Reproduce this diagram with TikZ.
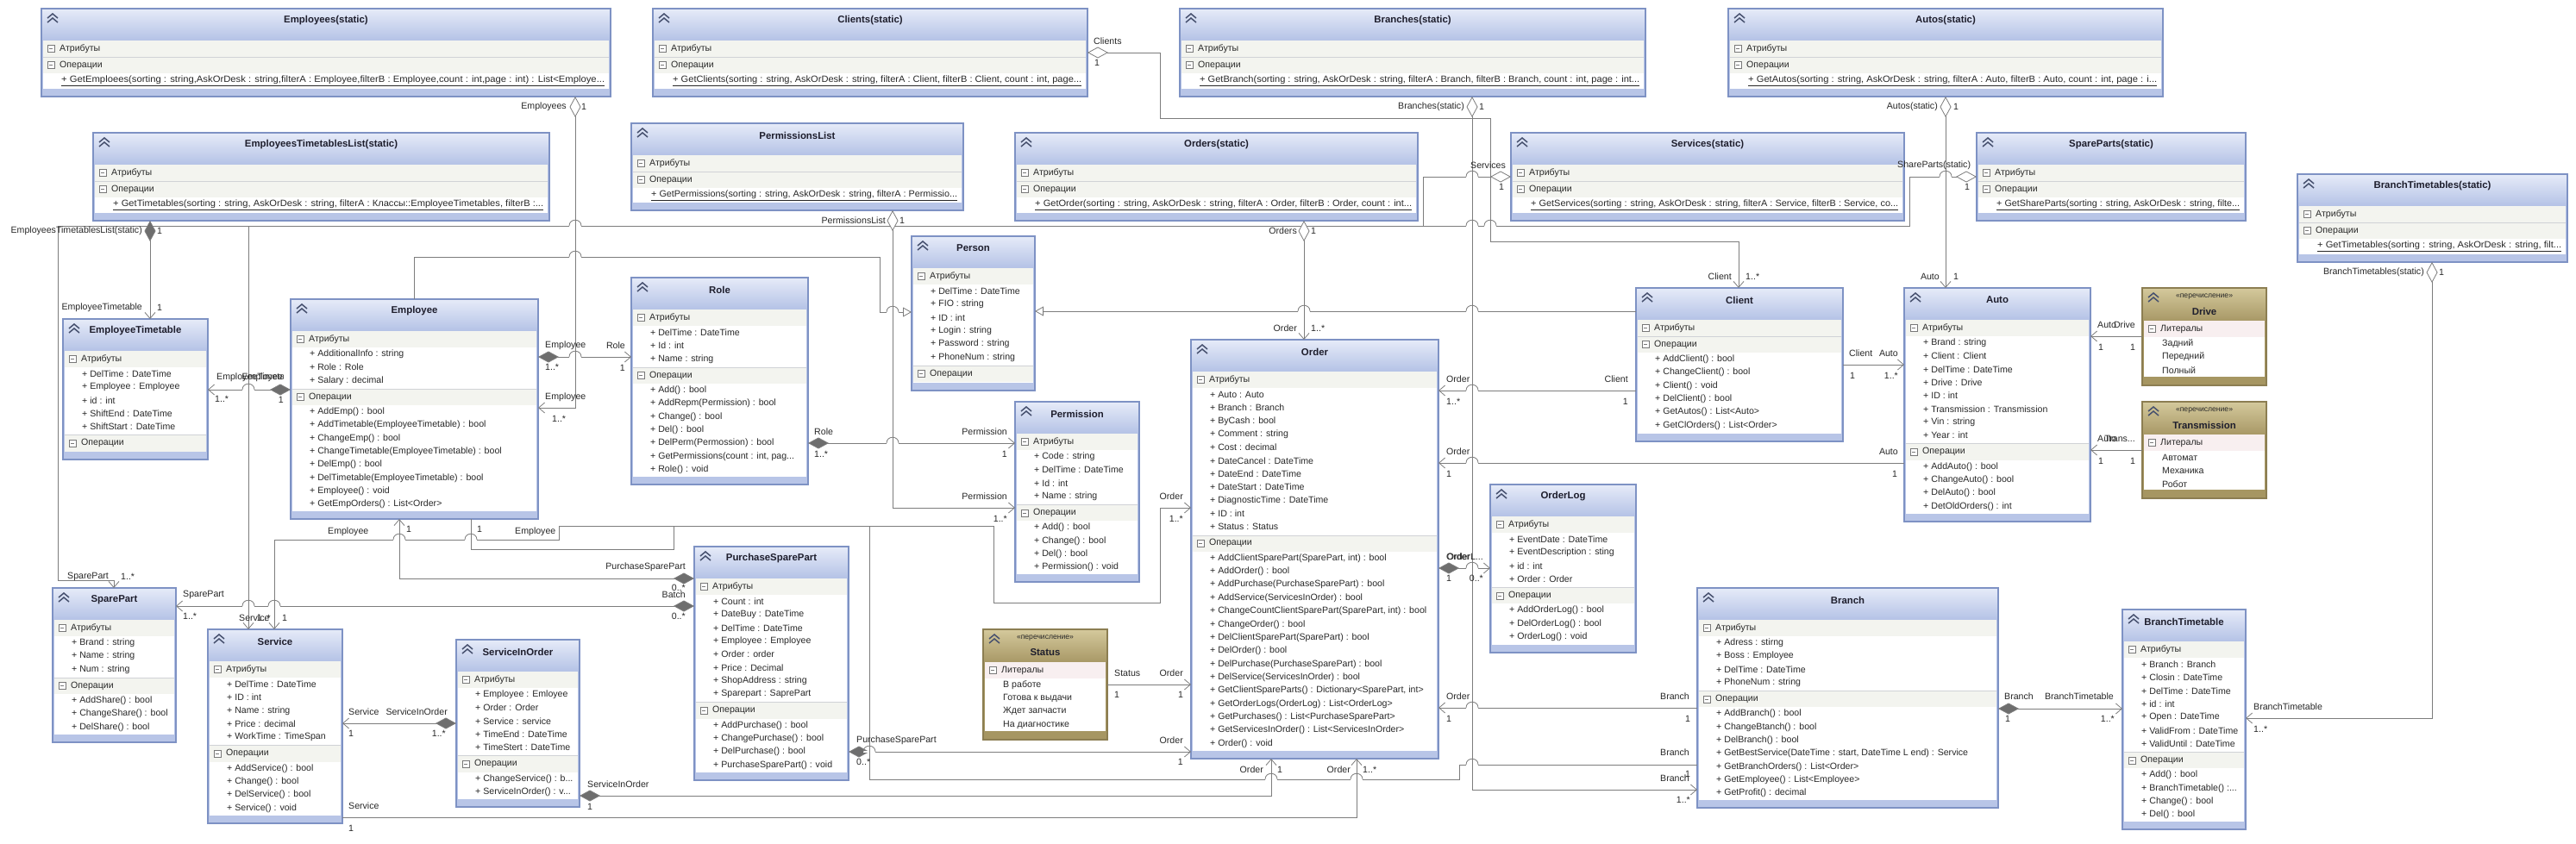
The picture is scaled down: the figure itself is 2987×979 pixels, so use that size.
\documentclass[tikz,border=0pt]{standalone}
\usepackage{fontspec}
\setmainfont{Liberation Sans}
\usepackage{graphicx}
\usetikzlibrary{arrows.meta,fit}

\definecolor{ttop}{RGB}{230,235,248}
\definecolor{tbot}{RGB}{180,194,230}
\definecolor{bandblue}{RGB}{184,197,231}
\definecolor{boxline}{RGB}{126,146,196}
\definecolor{hdrbg}{RGB}{243,244,239}
\definecolor{sepgray}{RGB}{208,210,214}
\definecolor{etop}{RGB}{212,201,156}
\definecolor{ebot}{RGB}{168,152,102}
\definecolor{eband}{RGB}{166,150,98}
\definecolor{eline}{RGB}{140,126,82}
\definecolor{ehdr}{RGB}{248,239,240}
\definecolor{conngray}{RGB}{125,125,125}
\definecolor{dfill}{RGB}{110,110,110}
\definecolor{txtc}{RGB}{40,40,40}
\definecolor{titc}{RGB}{30,30,45}
\definecolor{chevc}{RGB}{70,80,110}
\definecolor{mboxc}{RGB}{120,120,120}

\newcounter{lblc}
\newlength\natw
\newcommand{\tdots}{...}

\tikzset{
  conn/.style={draw=conngray, line width=0.8pt},
  txtfont/.style={font=\fontsize{10.6}{12}\selectfont},
  itemtext/.style={inner sep=0pt, anchor=west, text=txtc, txtfont},
  lbltext/.style={inner sep=0pt, text=txtc, txtfont},
  classtitle/.style={inner sep=0pt, text=titc, font=\bfseries\fontsize{11.4}{13}\selectfont},
  stereo/.style={inner sep=0pt, text=txtc, font=\fontsize{8.6}{10}\selectfont},
  boxframe/.style={draw=boxline, line width=1.1pt, inner sep=0pt, outer sep=0pt},
  eframe/.style={draw=eline, line width=1.1pt, inner sep=0pt, outer sep=0pt},
  chevron/.style={draw=chevc, line width=1.5pt},
  mbox/.style={draw=mboxc, line width=0.7pt},
  sepline/.style={draw=sepgray, line width=0.7pt},
  aggr/.tip={Diamond[fill=white,length=24pt,width=13pt]},
  comp/.tip={Diamond[fill=dfill,length=24pt,width=13pt]},
  nav/.tip={Straight Barb[length=7pt,width=12pt]},
  gen/.tip={Triangle[fill=white,length=10pt,width=11pt]}
}

% text squeezed to a given width
\newcommand{\fitw}[2]{\settowidth\natw{#2}\pgfmathsetmacro\sfac{#1/\natw}\scalebox{\sfac}[1]{#2}}

% collapse icons
\newcommand{\chev}[2]{%
  \draw[chevron] ({#1+7},{#2+11}) -- ({#1+13},{#2+6}) -- ({#1+19},{#2+11});
  \draw[chevron] ({#1+7},{#2+16}) -- ({#1+13},{#2+11}) -- ({#1+19},{#2+16});}
\newcommand{\minusbox}[2]{%
  \draw[mbox, fill=white] ({#1-4},{#2-4}) rectangle ({#1+4},{#2+4});
  \draw[mbox] ({#1-2},{#2}) -- ({#1+2},{#2});}

% class: name, x1, y1, x2, y2, title, number of attributes, attributes, operations
\newcommand{\classbox}[9]{%
  \pgfmathsetmacro\hA{#3+37}%
  \pgfmathsetmacro\iA{\hA+19}%
  \pgfmathsetmacro\hO{\iA+#7*15.35+(#7>0)*2}%
  \pgfmathsetmacro\iO{\hO+19}%
  \fill[bandblue] (#2,#3) rectangle (#4,#5);
  \shade[top color=ttop,bottom color=tbot] (#2,#3) rectangle (#4,\hA);
  \fill[white] ({#2+2},\hA) rectangle ({#4-2},{#5-9});
  \fill[hdrbg] ({#2+2},\hA) rectangle ({#4-2},\iA);
  \fill[hdrbg] ({#2+2},\hO) rectangle ({#4-2},\iO);
  \draw[sepline] ({#2+2},\hO) -- ({#4-2},\hO);
  \chev{#2}{#3}
  \node[classtitle] (#1-t) at ({(#2+#4)/2},{#3+14}) {#6};
  \minusbox{#2+11}{\hA+9.5}
  \node[itemtext] (#1-ha) at ({#2+21},{\hA+9.5}) {Атрибуты};
  \minusbox{#2+11}{\hO+9.5}
  \node[itemtext] (#1-ho) at ({#2+21},{\hO+9.5}) {Операции};
  \ifnum#7>0\relax
    \foreach \t [count=\i] in {#8} {\node[itemtext] (#1-a\i) at ({#2+22},{\iA+(\i-0.5)*15.35}) {\t};}
  \fi
  \foreach \t [count=\i] in {#9} {\node[itemtext] (#1-o\i) at ({#2+22},{\iO+(\i-0.5)*15.35}) {\t};}
  \coordinate (#1-nw) at (#2,#3);
  \coordinate (#1-se) at (#4,#5);
  \node[boxframe, fit=(#1-nw)(#1-se)] (#1) {};}

% static list: name, x1, y1, x2, y2, title, operation
\newcommand{\staticbox}[7]{%
  \pgfmathsetmacro\hA{#3+37}%
  \pgfmathsetmacro\hO{#3+56}%
  \pgfmathsetmacro\iO{#3+75}%
  \pgfmathsetmacro\tw{#4-#2-30}%
  \fill[bandblue] (#2,#3) rectangle (#4,#5);
  \shade[top color=ttop,bottom color=tbot] (#2,#3) rectangle (#4,\hA);
  \fill[white] ({#2+2},\hA) rectangle ({#4-2},{#5-9});
  \fill[hdrbg] ({#2+2},\hA) rectangle ({#4-2},\iO);
  \draw[sepline] ({#2+2},\hO) -- ({#4-2},\hO);
  \chev{#2}{#3}
  \node[classtitle] (#1-t) at ({(#2+#4)/2},{#3+14}) {#6};
  \minusbox{#2+11}{\hA+9.5}
  \node[itemtext] (#1-ha) at ({#2+21},{\hA+9.5}) {Атрибуты};
  \minusbox{#2+11}{\hO+9.5}
  \node[itemtext] (#1-ho) at ({#2+21},{\hO+9.5}) {Операции};
  \node[itemtext] (#1-o1) at ({#2+23},{\iO+9}) {\underline{\fitw{\tw}{#7}}};
  \coordinate (#1-nw) at (#2,#3);
  \coordinate (#1-se) at (#4,#5);
  \node[boxframe, fit=(#1-nw)(#1-se)] (#1) {};}

% enumeration: name, x1, y1, x2, y2, title, literals
\newcommand{\enumbox}[7]{%
  \pgfmathsetmacro\hA{#3+38}%
  \pgfmathsetmacro\iA{#3+57}%
  \fill[eband] (#2,#3) rectangle (#4,#5);
  \shade[top color=etop,bottom color=ebot] (#2,#3) rectangle (#4,\hA);
  \fill[white] ({#2+2},\hA) rectangle ({#4-2},{#5-10});
  \fill[ehdr] ({#2+2},\hA) rectangle ({#4-2},\iA);
  \chev{#2}{#3}
  \node[stereo] (#1-s) at ({(#2+#4)/2},{#3+10}) {«перечисление»};
  \node[classtitle] (#1-t) at ({(#2+#4)/2},{#3+27}) {#6};
  \minusbox{#2+11}{\hA+9.5}
  \node[itemtext] (#1-ha) at ({#2+21},{\hA+9.5}) {Литералы};
  \foreach \t [count=\i] in {#7} {\node[itemtext] (#1-l\i) at ({#2+23},{\iA+(\i-0.5)*15.35}) {\t};}
  \coordinate (#1-nw) at (#2,#3);
  \coordinate (#1-se) at (#4,#5);
  \node[eframe, fit=(#1-nw)(#1-se)] (#1) {};}

% line jump over a vertical connector
\newcommand{\hopover}[2]{%
  \fill[white] ({#1-7},{#2-1.3}) rectangle ({#1+7},{#2+1.3});
  \draw[conn] (#1,{#2-2}) -- (#1,{#2+2});
  \draw[conn] ({#1-7},#2) .. controls ({#1-7},{#2-9}) and ({#1+7},{#2-9}) .. ({#1+7},#2);}

% connector labels
\newcommand{\lbl}[4][center]{\stepcounter{lblc}\node[lbltext, anchor=#1] (l\arabic{lblc}) at (#2,#3) {#4};}

\begin{document}
\begin{tikzpicture}[x=1pt,y=-1pt]
\useasboundingbox[fill=white] (0,0) rectangle (2987,979);

% static lists
\staticbox{EmployeesS}{48}{10}{708}{112}{Employees(static)}{+ GetEmploees(sorting : string,AskOrDesk : string,filterA : Employee,filterB : Employee,count : int,page : int) : List<Employe...}
\staticbox{ClientsS}{757}{10}{1261}{112}{Clients(static)}{+ GetClients(sorting : string, AskOrDesk : string, filterA : Client, filterB : Client, count : int, page...}
\staticbox{BranchesS}{1368}{10}{1908}{112}{Branches(static)}{+ GetBranch(sorting : string, AskOrDesk : string, filterA : Branch, filterB : Branch, count : int, page : int...}
\staticbox{AutosS}{2004}{10}{2508}{112}{Autos(static)}{+ GetAutos(sorting : string, AskOrDesk : string, filterA : Auto, filterB : Auto, count : int, page : i...}
\staticbox{EmpTTList}{108}{154}{637}{256}{EmployeesTimetablesList(static)}{+ GetTimetables(sorting : string, AskOrDesk : string, filterA : Классы::EmployeeTimetables, filterB :...}
\staticbox{PermList}{732}{143}{1117}{244}{PermissionsList}{+ GetPermissions(sorting : string, AskOrDesk : string, filterA : Permissio...}
\staticbox{OrdersS}{1177}{154}{1644}{256}{Orders(static)}{+ GetOrder(sorting : string, AskOrDesk : string, filterA : Order, filterB : Order, count : int...}
\staticbox{ServicesS}{1752}{154}{2208}{256}{Services(static)}{+ GetServices(sorting : string, AskOrDesk : string, filterA : Service, filterB : Service, co...}
\staticbox{SparePartsS}{2292}{154}{2604}{256}{SpareParts(static)}{+ GetShareParts(sorting : string, AskOrDesk : string, filte...}
\staticbox{BranchTTS}{2664}{202}{2977}{304}{BranchTimetables(static)}{+ GetTimetables(sorting : string, AskOrDesk : string, filt...}

% classes
\classbox{EmpTT}{73}{370}{241}{533}{EmployeeTimetable}{5}{{+ DelTime : DateTime},{+ Employee : Employee},{+ id : int},{+ ShiftEnd : DateTime},{+ ShiftStart : DateTime}}{}
\classbox{Employee}{337}{347}{624}{602}{Employee}{3}{{+ AdditionalInfo : string},{+ Role : Role},{+ Salary : decimal}}{{+ AddEmp() : bool},{+ AddTimetable(EmployeeTimetable) : bool},{+ ChangeEmp() : bool},{+ ChangeTimetable(EmployeeTimetable) : bool},{+ DelEmp() : bool},{+ DelTimetable(EmployeeTimetable) : bool},{+ Employee() : void},{+ GetEmpOrders() : List<Order>}}
\classbox{Role}{732}{322}{937}{562}{Role}{3}{{+ DelTime : DateTime},{+ Id : int},{+ Name : string}}{{+ Add() : bool},{+ AddRepm(Permission) : bool},{+ Change() : bool},{+ Del() : bool},{+ DelPerm(Permossion) : bool},{+ GetPermissions(count : int, pag\tdots},{+ Role() : void}}
\classbox{Person}{1057}{274}{1200}{453}{Person}{6}{{+ DelTime : DateTime},{+ FIO : string},{+ ID : int},{+ Login : string},{+ Password : string},{+ PhoneNum : string}}{}
\classbox{Permission}{1177}{466}{1321}{675}{Permission}{4}{{+ Code : string},{+ DelTime : DateTime},{+ Id : int},{+ Name : string}}{{+ Add() : bool},{+ Change() : bool},{+ Del() : bool},{+ Permission() : void}}
\classbox{Order}{1381}{394}{1668}{880}{Order}{11}{{+ Auto : Auto},{+ Branch : Branch},{+ ByCash : bool},{+ Comment : string},{+ Cost : decimal},{+ DateCancel : DateTime},{+ DateEnd : DateTime},{+ DateStart : DateTime},{+ DiagnosticTime : DateTime},{+ ID : int},{+ Status : Status}}{{+ AddClientSparePart(SparePart, int) : bool},{+ AddOrder() : bool},{+ AddPurchase(PurchaseSparePart) : bool},{+ AddService(ServicesInOrder) : bool},{+ ChangeCountClientSparePart(SparePart, int) : bool},{+ ChangeOrder() : bool},{+ DelClientSparePart(SparePart) : bool},{+ DelOrder() : bool},{+ DelPurchase(PurchaseSparePart) : bool},{+ DelService(ServicesInOrder) : bool},{+ GetClientSpareParts() : Dictionary<SparePart, int>},{+ GetOrderLogs(OrderLog) : List<OrderLog>},{+ GetPurchases() : List<PurchaseSparePart>},{+ GetServicesInOrder() : List<ServicesInOrder>},{+ Order() : void}}
\classbox{Client}{1897}{334}{2137}{512}{Client}{0}{}{{+ AddClient() : bool},{+ ChangeClient() : bool},{+ Client() : void},{+ DelClient() : bool},{+ GetAutos() : List<Auto>},{+ GetClOrders() : List<Order>}}
\classbox{Auto}{2208}{334}{2424}{605}{Auto}{8}{{+ Brand : string},{+ Client : Client},{+ DelTime : DateTime},{+ Drive : Drive},{+ ID : int},{+ Transmission : Transmission},{+ Vin : string},{+ Year : int}}{{+ AddAuto() : bool},{+ ChangeAuto() : bool},{+ DelAuto() : bool},{+ DetOldOrders() : int}}
\classbox{OrderLog}{1728}{562}{1897}{757}{OrderLog}{4}{{+ EventDate : DateTime},{+ EventDescription : sting},{+ id : int},{+ Order : Order}}{{+ AddOrderLog() : bool},{+ DelOrderLog() : bool},{+ OrderLog() : void}}
\classbox{Branch}{1968}{682}{2317}{937}{Branch}{4}{{+ Adress : stirng},{+ Boss : Employee},{+ DelTime : DateTime},{+ PhoneNum : string}}{{+ AddBranch() : bool},{+ ChangeBtanch() : bool},{+ DelBranch() : bool},{+ GetBestService(DateTime : start, DateTime L end) : Service},{+ GetBranchOrders() : List<Order>},{+ GetEmployee() : List<Employee>},{+ GetProfit() : decimal}}
\classbox{BranchTT}{2461}{707}{2604}{962}{BranchTimetable}{7}{{+ Branch : Branch},{+ Closin : DateTime},{+ DelTime : DateTime},{+ id : int},{+ Open : DateTime},{+ ValidFrom : DateTime},{+ ValidUntil : DateTime}}{{+ Add() : bool},{+ BranchTimetable() :\tdots},{+ Change() : bool},{+ Del() : bool}}
\classbox{SparePart}{61}{682}{204}{861}{SparePart}{3}{{+ Brand : string},{+ Name : string},{+ Num : string}}{{+ AddShare() : bool},{+ ChangeShare() : bool},{+ DelShare() : bool}}
\classbox{Service}{241}{730}{397}{955}{Service}{5}{{+ DelTime : DateTime},{+ ID : int},{+ Name : string},{+ Price : decimal},{+ WorkTime : TimeSpan}}{{+ AddService() : bool},{+ Change() : bool},{+ DelService() : bool},{+ Service() : void}}
\classbox{SIO}{529}{742}{672}{936}{ServiceInOrder}{5}{{+ Employee : Emloyee},{+ Order : Order},{+ Service : service},{+ TimeEnd : DateTime},{+ TimeStert : DateTime}}{{+ ChangeService() : b\tdots},{+ ServiceInOrder() : v\tdots}}
\classbox{PSP}{805}{634}{984}{905}{PurchaseSparePart}{8}{{+ Count : int},{+ DateBuy : DateTime},{+ DelTime : DateTime},{+ Employee : Employee},{+ Order : order},{+ Price : Decimal},{+ ShopAddress : string},{+ Sparepart : SaprePart}}{{+ AddPurchase() : bool},{+ ChangePurchase() : bool},{+ DelPurchase() : bool},{+ PurchaseSparePart() : void}}

% enumerations
\enumbox{Drive}{2484}{334}{2628}{447}{Drive}{Задний,Передний,Полный}
\enumbox{Transmission}{2484}{466}{2628}{578}{Transmission}{Автомат,Механика,Робот}
\enumbox{Status}{1140}{730}{1284}{858}{Status}{В работе,Готова к выдачи,Ждет запчасти,На диагностике}

% long routes first
\draw[conn, aggr-nav] (ServicesS.west |- 0,205) -- (1650,205) -- (1650,262) -- (288,262) -- (Service.north -| 288,0);
\draw[conn, aggr-nav] (SparePartsS.west |- 0,205) -- (2214,205) -- (2214,262) -- (67,262) -- (67,673) -- (132,673) -- (SparePart.north -| 132,0);
\draw[conn, aggr-nav] (ClientsS.east |- 0,61) -- (1345,61) -- (1345,137) -- (1728,137) -- (1728,280) -- (2016,280) -- (Client.north -| 2016,0);
\draw[conn, nav-nav] (Service.north -| 318,0) -- (318,626) -- (648,626) -- (648,610) -- (1152,610) -- (1152,699) -- (1345,699) -- (1345,589) -- (Order.west |- 0,589);
\draw[conn] (Employee.south -| 546,0) -- (546,637) -- (781,637) -- (781,610) -- (1008,610) -- (1008,904) -- (1692,904) -- (1692,887) -- (Branch.west |- 0,887);

% static lists to their classes
\draw[conn, aggr-nav] (EmployeesS.south -| 667,0) -- (667,473) -- (Employee.east |- 0,473);
\draw[conn, comp-nav] (EmpTTList.south -| 174,0) -- (EmpTT.north -| 174,0);
\draw[conn, aggr-nav] (BranchesS.south -| 1707,0) -- (1707,916) -- (Branch.west |- 0,916);
\draw[conn, aggr-nav] (OrdersS.south -| 1512,0) -- (Order.north -| 1512,0);
\draw[conn, aggr-nav] (PermList.south -| 1035,0) -- (1035,589) -- (Permission.west |- 0,589);
\draw[conn, aggr-nav] (AutosS.south -| 2256,0) -- (Auto.north -| 2256,0);
\draw[conn, aggr-nav] (BranchTTS.south -| 2820,0) -- (2820,833) -- (BranchTT.east |- 0,833);

% associations
\draw[conn, comp-nav] (Employee.east |- 0,414) -- (Role.west |- 0,414);
\draw[conn, comp-nav] (Employee.west |- 0,452) -- (EmpTT.east |- 0,452);
\draw[conn, comp-nav] (Role.east |- 0,514) -- (Permission.west |- 0,514);
\draw[conn, -gen] (Employee.north -| 480,0) -- (480,298) -- (1020,298) -- (1020,362) -- (Person.west |- 0,362);
\draw[conn, -gen] (Client.west |- 0,361) -- (Person.east |- 0,361);
\draw[conn, -nav] (Client.west |- 0,453) -- (Order.east |- 0,453);
\draw[conn, -nav] (Client.east |- 0,423) -- (Auto.west |- 0,423);
\draw[conn, -nav] (Drive.west |- 0,390) -- (Auto.east |- 0,390);
\draw[conn, -nav] (Transmission.west |- 0,522) -- (Auto.east |- 0,522);
\draw[conn, -nav] (Auto.west |- 0,537) -- (Order.east |- 0,537);
\draw[conn, comp-nav] (Order.east |- 0,659) -- (OrderLog.west |- 0,659);
\draw[conn, -nav] (Branch.west |- 0,821) -- (Order.east |- 0,821);
\draw[conn, comp-nav] (Branch.east |- 0,822) -- (BranchTT.west |- 0,822);
\draw[conn, -nav] (Status.east |- 0,794) -- (Order.west |- 0,794);
\draw[conn, comp-nav] (PSP.west |- 0,671) -- (463,671) -- (Employee.south -| 463,0);
\draw[conn, comp-nav] (PSP.west |- 0,703) -- (SparePart.east |- 0,703);
\draw[conn, comp-nav] (SIO.west |- 0,839) -- (Service.east |- 0,839);
\draw[conn, comp-nav] (SIO.east |- 0,923) -- (1474,923) -- (Order.south -| 1474,0);
\draw[conn, -nav] (Service.east |- 0,948) -- (1573,948) -- (Order.south -| 1573,0);
\draw[conn, comp-nav] (PSP.east |- 0,872) -- (Order.west |- 0,872);

% line jumps
\foreach \hx/\hy in {667/262,667/298,667/414,288/452,1035/362,1035/514,1512/361,1707/361,1707/453,1707/537,1707/659,1707/821,1707/887,1707/205,1707/262,1728/262,2256/205,463/626,546/626,288/703,318/703,1008/872,1474/904,1573/904}
  {\hopover{\hx}{\hy}}

% end labels
\lbl[east]{657}{124}{Employees}
\lbl[west]{674}{124}{1}
\lbl[west]{632}{461}{Employee}
\lbl[west]{640}{486}{1..*}
\lbl[west]{632}{401}{Employee}
\lbl[west]{632}{426}{1..*}
\lbl[east]{725}{401}{Role}
\lbl[east]{725}{427}{1}
\lbl[east]{165}{268}{EmployeesTimetablesList(static)}
\lbl[west]{182}{268}{1}
\lbl[east]{165}{357}{EmployeeTimetable}
\lbl[west]{182}{357}{1}
\begin{scope}
  \clip (245,425) rectangle (328,450);
  \lbl[west]{251}{438}{EmployeeTimetable}
\end{scope}
\lbl[east]{328}{438}{Employee}
\lbl[west]{249}{463}{1..*}
\lbl[east]{329}{464}{1}
\lbl[west]{1268}{48}{Clients}
\lbl{1272}{73}{1}
\lbl[east]{2008}{321}{Client}
\lbl[west]{2024}{321}{1..*}
\lbl[east]{1698}{124}{Branches(static)}
\lbl[west]{1715}{124}{1}
\lbl[east]{1959}{903}{Branch}
\lbl[east]{1960}{928}{1..*}
\lbl[east]{1504}{268}{Orders}
\lbl[west]{1520}{268}{1}
\lbl[east]{1504}{381}{Order}
\lbl[west]{1520}{381}{1..*}
\lbl[east]{1027}{256}{PermissionsList}
\lbl[west]{1043}{256}{1}
\lbl[east]{1168}{576}{Permission}
\lbl[east]{1168}{602}{1..*}
\lbl[west]{944}{501}{Role}
\lbl[west]{944}{527}{1..*}
\lbl[east]{1168}{501}{Permission}
\lbl[east]{1168}{527}{1}
\lbl[west]{1677}{440}{Order}
\lbl[west]{1677}{466}{1..*}
\lbl[east]{1888}{440}{Client}
\lbl[east]{1888}{466}{1}
\lbl[west]{2144}{410}{Client}
\lbl[west]{2145}{436}{1}
\lbl[east]{2201}{410}{Auto}
\lbl[east]{2201}{436}{1..*}
\lbl[east]{2247}{124}{Autos(static)}
\lbl[west]{2265}{124}{1}
\lbl[east]{2249}{321}{Auto}
\lbl[west]{2265}{321}{1}
\lbl[west]{1705}{192}{Services}
\lbl{1741}{217}{1}
\lbl[west]{2200}{192}{ShareParts(static)}
\lbl{2281}{217}{1}
\lbl[west]{78}{669}{SparePart}
\lbl[west]{140}{669}{1..*}
\lbl[west]{277}{717}{Service}
\lbl[east]{314}{717}{1..*}
\lbl[west]{327}{717}{1}
\lbl[west]{2432}{377}{Auto}
\lbl[east]{2476}{377}{Drive}
\lbl{2436}{403}{1}
\lbl{2473}{403}{1}
\lbl[west]{2432}{509}{Auto}
\lbl[east]{2476}{509}{Trans...}
\lbl{2436}{535}{1}
\lbl{2473}{535}{1}
\lbl[west]{1677}{524}{Order}
\lbl{1680}{550}{1}
\lbl[east]{2201}{524}{Auto}
\lbl{2197}{550}{1}
\lbl[west]{1677}{646}{Order}
\lbl[east]{1720}{646}{OrderL...}
\lbl{1680}{671}{1}
\lbl[east]{1720}{671}{0..*}
\lbl[west]{1677}{808}{Order}
\lbl{1680}{834}{1}
\lbl[east]{1959}{808}{Branch}
\lbl{1957}{834}{1}
\lbl[east]{1959}{873}{Branch}
\lbl{1957}{898}{1}
\lbl[west]{2324}{808}{Branch}
\lbl{2328}{834}{1}
\lbl[east]{2451}{808}{BranchTimetable}
\lbl[east]{2452}{834}{1..*}
\lbl[east]{2811}{316}{BranchTimetables(static)}
\lbl[west]{2828}{316}{1}
\lbl[west]{2613}{820}{BranchTimetable}
\lbl[west]{2613}{846}{1..*}
\lbl[west]{1292}{781}{Status}
\lbl{1295}{806}{1}
\lbl[east]{1372}{781}{Order}
\lbl{1369}{806}{1}
\lbl[east]{1372}{576}{Order}
\lbl[east]{1372}{602}{1..*}
\lbl[west]{380}{617}{Employee}
\lbl[west]{471}{614}{1}
\lbl[east]{795}{658}{PurchaseSparePart}
\lbl[east]{795}{682}{0..*}
\lbl[west]{553}{614}{1}
\lbl[west]{597}{617}{Employee}
\lbl[west]{212}{690}{SparePart}
\lbl[west]{212}{715}{1..*}
\lbl[east]{795}{690}{Batch}
\lbl[east]{795}{715}{0..*}
\lbl[west]{404}{826}{Service}
\lbl{407}{851}{1}
\lbl[east]{519}{826}{ServiceInOrder}
\lbl[east]{517}{851}{1..*}
\lbl[west]{681}{910}{ServiceInOrder}
\lbl{684}{936}{1}
\lbl[east]{1465}{893}{Order}
\lbl[west]{1481}{893}{1}
\lbl[west]{404}{935}{Service}
\lbl{407}{961}{1}
\lbl[east]{1566}{893}{Order}
\lbl[west]{1580}{893}{1..*}
\lbl[west]{993}{859}{PurchaseSparePart}
\lbl[west]{993}{884}{0..*}
\lbl[east]{1372}{859}{Order}
\lbl[east]{1372}{884}{1}
\end{tikzpicture}
\end{document}
